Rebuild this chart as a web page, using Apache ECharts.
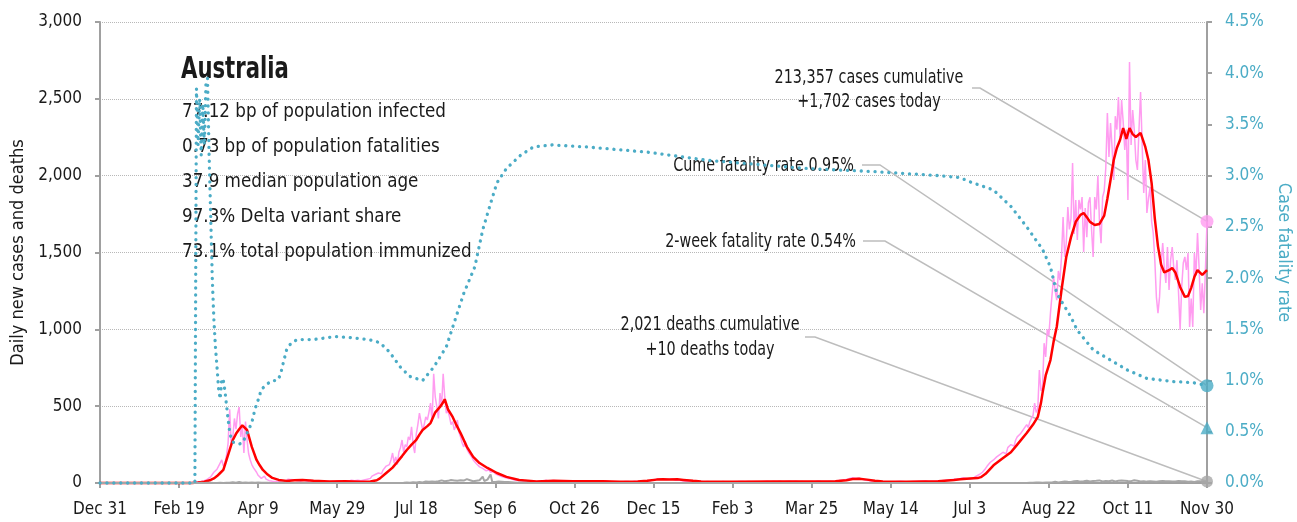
<!DOCTYPE html>
<html>
<head>
<meta charset="utf-8">
<script src="https://cdn.jsdelivr.net/npm/echarts@6/dist/echarts.min.js"></script>
<style>
  html, body { margin: 0; padding: 0; background: #fff; }
  #chart { width: 1297px; height: 522px; }
</style>
</head>
<body>
<div id="chart"></div>
<script>
// Day 0 is 31 Dec 2019; every series is indexed by days since then.
const START_UTC = Date.UTC(2019, 11, 31);
const LAST_DAY = 700;
const TICK_DAYS = 50;
const MONTHS = ['Jan','Feb','Mar','Apr','May','Jun','Jul','Aug','Sep','Oct','Nov','Dec'];

// Daily new cases, day 0 .. day 700
const casesDaily = [
  0,0,0,0,0, 0,0,0,0,0, 0,0,0,0,0, 0,0,0,0,0, 0,0,0,0,0,
  1,0,1,1,0, 1,0,2,0,0, 1,2,0,1,0, 0,0,0,1,0, 0,0,0,0,0,
  0,1,0,0,2, 0,2,0,3,2, 5,4,8,5,10, 12,15,20,25,30, 40,55,70,80,90,
  110,100,150,110,130, 180,260,480,250,300, 420,350,450,495,300, 370,195,400,280,190, 150,120,100,90,70,
  50,40,30,20,45, 25,20,15,20,12, 15,10,18,8,12, 15,20,10,14,25, 18,22,15,20,12,
  15,10,12,8,20, 15,10,12,18,10, 8,14,12,10,9, 12,15,8,10,12, 9,11,10,8,12,
  10,15,12,9,11, 14,10,12,15,18, 10,15,12,18,20, 15,25,20,30,25, 35,30,45,40,55,
  50,65,75,60,85, 80,110,100,120,150, 195,130,170,120,200, 230,280,200,250,235, 300,280,365,250,195,
  320,380,455,400,345, 380,430,410,460,520, 400,710,560,495,420, 585,500,710,560,455, 470,430,380,400,345,
  370,410,330,300,260, 235,270,220,200,210, 170,150,160,125,130, 105,115,95,100,80, 72,85,70,60,75,
  60,65,50,55,42, 40,35,33,30,25, 28,22,20,18,16, 15,14,12,10,12, 9,11,8,10,12,
  9,8,11,14,10, 12,15,18,14,10, 12,16,20,14,12, 10,15,11,13,9, 12,10,14,12,10,
  11,9,12,8,10, 13,9,11,14,10, 12,8,10,15,12, 9,11,13,10,12, 14,9,8,10,7,
  9,6,8,7,10, 6,8,9,7,10, 8,6,9,11,8, 10,7,9,12,8, 10,9,11,15,18,
  22,30,25,35,28, 20,24,30,22,18, 25,20,26,22,18, 15,20,17,14,16, 12,15,10,13,9,
  11,8,10,7,9, 12,8,6,10,9, 7,8,11,6,9, 8,10,7,6,9, 8,7,10,6,8,
  7,9,6,8,10, 7,9,11,8,6, 9,7,8,10,6, 9,7,11,8,9, 10,7,12,9,8,
  11,9,13,8,10, 12,9,7,11,10, 8,12,9,10,7, 11,9,8,12,10, 9,7,10,8,11,
  9,12,8,10,13, 9,11,14,10,12, 9,15,11,13,10, 16,12,14,18,15, 20,17,22,25,30,
  28,35,24,30,26, 32,22,25,20,18, 22,16,14,12,15, 10,12,9,11,8, 10,7,9,8,10,
  7,9,6,8,10, 7,11,8,9,12, 7,10,8,11,9, 13,10,8,12,15, 11,9,14,12,10,
  13,11,15,12,16, 14,18,15,20,17, 22,19,25,21,28, 24,20,26,22,30, 20,35,25,30,40,
  25,35,30,25,45, 35,55,60,70,80, 95,110,120,135,125, 150,160,170,160,185, 175,200,210,190,230,
  220,250,260,240,280, 300,290,320,330,350, 340,380,360,400,420, 440,520,460,480,735, 600,620,910,820,1000,
  960,1105,1100,1341,1250, 1190,1380,1320,1471,1731, 1471,1560,1796,1650,1720, 2083,1620,1842,1581,1842, 1780,1861,1503,1790,1600,
  1822,1860,1650,1471,1861, 1780,2000,1700,1560,1861, 1900,2050,2408,2122,2343, 2180,1972,2387,2300,2512, 2250,2492,2350,2167,2300,
  1842,2740,2200,2427,2300, 2102,2037,2300,2545,2200, 1887,2102,1757,1850,1926, 1700,1627,1451,1210,1105, 1211,1432,1562,1400,1302,
  1536,1256,1451,1536,1400, 1321,1450,1240,996,1276, 1432,1471,1386,1497,1015, 1200,1015,1497,1350,1627, 1400,1126,1300,1105,1386,
  1702
];

// Smoothed (7-day) new cases: [day, cases]
const casesAverage = [
  [0,0],[58,0],[62,3],[66,8],[70,20],[72,30],[74,45],[76,65],[78,85],[80,150],[82,215],[84,280],
  [86,320],[88,350],[90,375],[91,372],[93,345],[96,235],[99,150],[101,115],[103,85],[106,55],[109,33],
  [113,20],[118,13],[123,18],[128,20],[135,14],[145,10],[155,12],[165,8],[171,10],[175,18],[177,30],
  [181,65],[185,100],[188,137],[191,175],[194,215],[197,250],[200,280],[202,315],[204,345],[207,370],
  [209,390],[212,460],[215,495],[217,525],[218,545],[220,480],[223,430],[225,385],[228,325],[232,235],
  [236,170],[240,130],[245,98],[251,65],[257,40],[265,20],[276,10],[287,15],[299,12],[318,12],[329,8],
  [340,9],[346,14],[352,22],[356,25],[360,22],[365,24],[369,20],[375,14],[380,10],[400,8],[426,10],
  [450,9],[465,12],[472,18],[476,26],[480,28],[485,22],[490,14],[495,9],[510,8],[530,12],[540,20],
  [544,25],[550,30],[555,32],[557,38],[560,60],[565,115],[570,155],[576,200],[580,250],[586,325],
  [590,380],[593,430],[595,520],[596,585],[598,700],[601,800],[603,920],[605,1017],[608,1256],
  [611,1471],[614,1600],[617,1700],[620,1745],[622,1757],[624,1730],[626,1699],[629,1679],[632,1686],
  [635,1740],[637,1850],[639,1972],[641,2100],[643,2180],[645,2232],[647,2310],[649,2240],[651,2310],
  [653,2270],[655,2252],[658,2278],[661,2187],[663,2100],[665,1950],[667,1720],[669,1540],[671,1420],
  [673,1370],[676,1385],[678,1399],[680,1370],[683,1276],[686,1211],[688,1217],[690,1270],[692,1340],
  [694,1386],[697,1354],[700,1386]
];

// Daily deaths, by outbreak: first day and daily values
const deathsFirstWaveStart = 61;
const deathsFirstWave = [
  1,0,0,1,0,0,0,1,0,1, 0,0,1,0,1,2,1,0,1,2, 3,1,2,5,3,2,4,6,3,2, 5,4,3,2,1,4,3,2,1,3,
  2,1,2,1,0,1,2,0,1,0, 1,0,2,1,0,1,0,0,1,0, 2,0,1,0,0,1,0,0,0,1, 0,0,1,0,0,0,1,0,0,0
];
const deathsSecondWaveStart = 188;
const deathsSecondWave = [
  0,1,0,2,1,0,3,2,1,3,5,2, 4,3,6,5,3,7,10,6,8,5,9,12, 8,15,11,13,17,10,12,21,14,17,19,12,
  17,25,15,13,18,22,16,12,25,14,18,20, 11,23,15,25,18,12,41,13,18,22,15,56,
  8,11,7,15,9,6,8,5,7,4,6,3, 5,2,4,3,2,1,3,2,1,0,2,1,0,1,0,0
];
const deathsDeltaStart = 585;
const deathsDelta = [
  1,0,2,1,3,2,1,4,2,3,5,2,4,3,6,
  4,7,3,5,8,6,4,9,7,5,10,6,8,12,7,9,11,8,13,10,
  9,14,11,8,15,12,10,16,13,9,14,11,17,12,10,15,13,18,11,14,
  16,12,10,19,14,13,17,11,15,20,13,16,12,14,18,11,15,13,10,16,
  12,14,9,13,11,15,10,12,8,14,11,9,13,10,12,8,11,14,9,12,
  10,8,13,9,11,7,12,10,8,11,9,13,7,10,12,8,11,9,7,12,10
];

// Cumulative case fatality rate (%): [day, rate]
const fatalityRate = [
  [0,0],[60,0],[61,3.85],[62,3.3],[63,3.75],[64,3.2],[65,3.7],[66,3.3],[67,3.9],[68,3.95],[69,3.2],
  [70,2.6],[71,2.0],[72,1.6],[73,1.33],[74,1.13],[75,0.92],[76,0.82],[77,1.02],[78,1.0],[79,0.9],
  [80,0.76],[81,0.62],[82,0.5],[83,0.43],[84,0.40],[86,0.39],[88,0.38],[90,0.39],[92,0.45],[94,0.52],
  [96,0.59],[98,0.72],[100,0.81],[102,0.91],[105,0.96],[109,1.0],[112,1.0],[114,1.05],[116,1.18],
  [118,1.3],[121,1.37],[125,1.40],[135,1.40],[149,1.43],[158,1.42],[170,1.40],[177,1.37],[183,1.28],
  [190,1.13],[196,1.04],[204,1.0],[211,1.13],[219,1.33],[223,1.52],[230,1.85],[237,2.11],[242,2.47],
  [247,2.73],[251,2.93],[257,3.07],[266,3.2],[274,3.28],[286,3.30],[308,3.28],[346,3.23],[384,3.15],
  [447,3.07],[489,3.04],[531,3.0],[544,2.98],[550,2.94],[565,2.86],[576,2.70],[586,2.5],[596,2.28],
  [601,2.11],[605,1.85],[614,1.62],[618,1.49],[628,1.30],[639,1.20],[650,1.10],[662,1.02],[679,0.99],
  [691,0.98],[700,0.95]
];

// Headline figures
const countryName = 'Australia';
const statLines = [
  '77.12 bp of population infected',
  '0.73 bp of population fatalities',
  '37.9 median population age',
  '97.3% Delta variant share',
  '73.1% total population immunized'
];
const casesCumulative = 213357;
const deathsCumulative = 2021;
const twoWeekRate = 0.54;

const FONT = "'Liberation Sans Narrow','DejaVu Sans Condensed','Roboto',sans-serif";
const TEAL = '#4BACC6';
const PINK = '#FF9CF0';
const RED = '#FF0000';
const GREY = '#A6A6A6';
const AXIS = '#A0A0A0';
const INK = '#1a1a1a';

function dayLabel(d) {
  const t = new Date(START_UTC + d * 86400000);
  return MONTHS[t.getUTCMonth()] + ' ' + t.getUTCDate();
}
const fmt = n => n.toLocaleString('en-US');

const deathsDaily = new Array(LAST_DAY + 1).fill(0);
[[deathsFirstWaveStart, deathsFirstWave], [deathsSecondWaveStart, deathsSecondWave], [deathsDeltaStart, deathsDelta]]
  .forEach(([s, vals]) => vals.forEach((v, i) => { deathsDaily[s + i] = v; }));

const casesToday = casesDaily[casesDaily.length - 1];
const deathsToday = deathsDaily[deathsDaily.length - 1];
const cumeRate = fatalityRate[fatalityRate.length - 1][1];

const chart = echarts.init(document.getElementById('chart'), null, { renderer: 'canvas' });

const axisLineStyle = { color: AXIS, width: 2 };

chart.setOption({
  animation: false,
  backgroundColor: '#ffffff',
  textStyle: { fontFamily: FONT },
  grid: { left: 100, right: 90, top: 22, bottom: 39, containLabel: false, outerBoundsMode: 'none' },
  xAxis: {
    type: 'value', min: 0, max: LAST_DAY, interval: TICK_DAYS,
    axisLine: { show: true, lineStyle: axisLineStyle },
    axisTick: { show: true, length: 5, lineStyle: axisLineStyle },
    axisLabel: { formatter: dayLabel, color: INK, fontSize: 17, fontFamily: FONT, margin: 18 },
    splitLine: { show: false }
  },
  yAxis: [
    {
      type: 'value', min: 0, max: 3000, interval: 500, position: 'left',
      axisLine: { show: true, lineStyle: axisLineStyle },
      axisTick: { show: true, length: 5, lineStyle: axisLineStyle },
      axisLabel: { formatter: v => fmt(v), color: INK, fontSize: 17, fontFamily: FONT, margin: 18 },
      splitLine: { show: true, lineStyle: { type: 'dotted', color: '#B8B8B8', width: 1 } },
      name: 'Daily new cases and deaths', nameLocation: 'middle', nameGap: 72, nameRotate: 90,
      nameTextStyle: { color: INK, fontSize: 18, fontFamily: FONT }
    },
    {
      type: 'value', min: 0, max: 4.5, interval: 0.5, position: 'right',
      axisLine: { show: true, lineStyle: axisLineStyle },
      axisTick: { show: true, length: 5, lineStyle: axisLineStyle },
      axisLabel: { formatter: v => v.toFixed(1) + '%', color: TEAL, fontSize: 17, fontFamily: FONT, margin: 18 },
      splitLine: { show: false },
      name: 'Case fatality rate', nameLocation: 'middle', nameGap: 52, nameRotate: -90,
      nameTextStyle: { color: TEAL, fontSize: 18, fontFamily: FONT }
    }
  ],
  series: [
    {
      name: 'Daily cases', type: 'line', yAxisIndex: 0, showSymbol: false, clip: false, z: 2,
      data: casesDaily.map((v, i) => [i, v]),
      lineStyle: { color: PINK, width: 1.5 }, itemStyle: { color: PINK }
    },
    {
      name: 'Average cases', type: 'line', yAxisIndex: 0, showSymbol: false, clip: false, z: 3,
      data: casesAverage,
      lineStyle: { color: RED, width: 2.5 }, itemStyle: { color: RED }
    },
    {
      name: 'Daily deaths', type: 'line', yAxisIndex: 0, showSymbol: false, clip: false, z: 4,
      data: deathsDaily.map((v, i) => [i, v]),
      lineStyle: { color: GREY, width: 2 }, itemStyle: { color: GREY }
    },
    {
      name: 'Case fatality rate', type: 'line', yAxisIndex: 1, showSymbol: false, clip: false, z: 5,
      data: fatalityRate,
      lineStyle: { color: TEAL, width: 3.3, type: [0.1, 6.8], cap: 'round' }, itemStyle: { color: TEAL }
    },
    {
      name: 'Cases today', type: 'scatter', yAxisIndex: 0, clip: false, z: 6,
      symbol: 'circle', symbolSize: 13, data: [[LAST_DAY, casesToday]], itemStyle: { color: PINK }
    },
    {
      name: 'Deaths today', type: 'scatter', yAxisIndex: 0, clip: false, z: 6,
      symbol: 'circle', symbolSize: 12, data: [[LAST_DAY, deathsToday]], itemStyle: { color: GREY }
    },
    {
      name: 'Cume rate', type: 'scatter', yAxisIndex: 1, clip: false, z: 6,
      symbol: 'circle', symbolSize: 13, data: [[LAST_DAY, cumeRate]], itemStyle: { color: TEAL }
    },
    {
      name: 'Two-week rate', type: 'scatter', yAxisIndex: 1, clip: false, z: 6,
      symbol: 'triangle', symbolSize: 13, data: [[LAST_DAY, twoWeekRate]], itemStyle: { color: TEAL }
    }
  ]
});

// Annotation text and leader lines to the end-of-series markers
const px = (yAxisIndex, value) => chart.convertToPixel({ xAxisIndex: 0, yAxisIndex }, [LAST_DAY, value]);
const pCases = px(0, casesToday);
const pDeaths = px(0, deathsToday);
const pCume = px(1, cumeRate);
const pTwoWeek = px(1, twoWeekRate);

// Narrow type is drawn by squeezing the text horizontally around its anchor
function label(text, x, y, align, size, squeeze, weight) {
  return {
    type: 'text', x, y, z: 1, silent: true, scaleX: squeeze || 1,
    style: {
      text, fill: INK, font: (weight || 'normal') + ' ' + size + 'px ' + FONT,
      textAlign: align, textVerticalAlign: 'middle'
    }
  };
}
function leader(points) {
  return {
    type: 'polyline', z: 1, silent: true,
    shape: { points },
    style: { stroke: '#BDBDBD', lineWidth: 1.5, fill: null }
  };
}

const NOTE = 0.84;
const graphics = [
  label(countryName, 181, 70, 'left', 31, 0.76, 'bold'),
  ...statLines.map((t, i) => label(t, 182, 112 + i * 35, 'left', 19, 0.98)),
  label(fmt(casesCumulative) + ' cases cumulative', 869, 78, 'center', 19, NOTE),
  label('+' + fmt(casesToday) + ' cases today', 869, 102, 'center', 19, NOTE),
  label('Cume fatality rate ' + cumeRate.toFixed(2) + '%', 854, 166, 'right', 19, NOTE),
  label('2-week fatality rate ' + twoWeekRate.toFixed(2) + '%', 856, 242, 'right', 19, NOTE),
  label(fmt(deathsCumulative) + ' deaths cumulative', 710, 325, 'center', 19, NOTE),
  label('+' + deathsToday + ' deaths today', 710, 350, 'center', 19, NOTE),
  leader([[972, 88], [980, 88], pCases]),
  leader([[862, 165], [880, 165], pCume]),
  leader([[863, 241], [885, 241], pTwoWeek]),
  leader([[805, 337], [815, 337], pDeaths])
];
chart.setOption({ graphic: graphics });
</script>
</body>
</html>
